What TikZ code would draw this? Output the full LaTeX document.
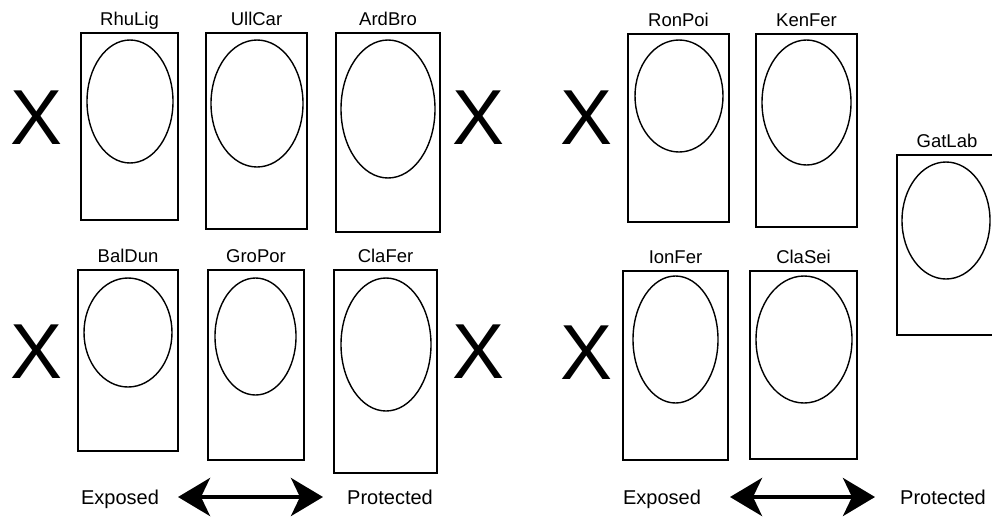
\documentclass[tikz,border=0pt]{standalone}
\usepackage{fontspec}
\setmainfont{Liberation Sans}
\usetikzlibrary{arrows.meta, shapes.geometric}

\begin{document}
\begin{tikzpicture}[x=1pt, y=-1pt,
  box/.style = {draw, line width=1.6pt, rectangle, inner sep=0pt},
  oval/.style = {draw, line width=1.4pt, ellipse, inner sep=0pt},
  lbl/.style = {font=\fontsize{18.5}{20}\selectfont, inner sep=0pt, text height=0.72em, text depth=0.22em, label distance=4pt},
  cross/.style = {font=\fontsize{78}{80}\selectfont, inner sep=0pt},
  side/.style = {font=\fontsize{20}{22}\selectfont, inner sep=0pt, anchor=base},
  scalearrow/.style = {line width=4pt, {Stealth[length=32pt, width=38pt, inset=9pt]}-{Stealth[length=32pt, width=38pt, inset=9pt]}}
]
\useasboundingbox (0,0) rectangle (992,517);
\clip (0,0) rectangle (992,517);

%left group, top row
\node[box, minimum width=97pt, minimum height=187pt, label={[lbl]above:RhuLig}] (rhulig) at (129.5,126.5) {};
\node[oval, minimum width=86pt, minimum height=123pt] (rhulig-o) at (130,101.5) {};
\node[box, minimum width=101pt, minimum height=196pt, label={[lbl]above:UllCar}] (ullcar) at (256.5,131) {};
\node[oval, minimum width=92pt, minimum height=127pt] (ullcar-o) at (257,103.5) {};
\node[box, minimum width=104pt, minimum height=199pt, label={[lbl]above:ArdBro}] (ardbro) at (388,132.5) {};
\node[oval, minimum width=94pt, minimum height=138pt] (ardbro-o) at (388,109) {};

%left group, bottom row
\node[box, minimum width=100pt, minimum height=181pt, label={[lbl]above:BalDun}] (baldun) at (128,360.5) {};
\node[oval, minimum width=88pt, minimum height=109pt] (baldun-o) at (128,332.5) {};
\node[box, minimum width=96pt, minimum height=190pt, label={[lbl]above:GroPor}] (gropor) at (256,365) {};
\node[oval, minimum width=81pt, minimum height=117pt] (gropor-o) at (255.5,336.5) {};
\node[box, minimum width=103pt, minimum height=203pt, label={[lbl]above:ClaFer}] (clafer) at (385.5,371.5) {};
\node[oval, minimum width=90pt, minimum height=133pt] (clafer-o) at (386,344.5) {};

%right group
\node[box, minimum width=101pt, minimum height=188pt, label={[lbl]above:RonPoi}] (ronpoi) at (678.5,128) {};
\node[oval, minimum width=88pt, minimum height=112pt] (ronpoi-o) at (679,96) {};
\node[box, minimum width=101pt, minimum height=193pt, label={[lbl]above:KenFer}] (kenfer) at (806.5,130.5) {};
\node[oval, minimum width=89pt, minimum height=125pt] (kenfer-o) at (806.5,102.5) {};
\node[box, minimum width=105pt, minimum height=189pt, label={[lbl]above:IonFer}] (ionfer) at (675.5,365.5) {};
\node[oval, minimum width=85pt, minimum height=127pt] (ionfer-o) at (675.5,339.5) {};
\node[box, minimum width=107pt, minimum height=188pt, label={[lbl]above:ClaSei}] (clasei) at (803.5,365) {};
\node[oval, minimum width=96pt, minimum height=127pt] (clasei-o) at (804,339.5) {};
\node[box, minimum width=100pt, minimum height=180pt, label={[lbl]above:GatLab}] (gatlab) at (947,245) {};
\node[oval, minimum width=88pt, minimum height=117pt] (gatlab-o) at (946,220.5) {};

%crosses
\node[cross] (x1) at (37,117.5) {X};
\node[cross] (x2) at (479,117.5) {X};
\node[cross] (x3) at (37,352) {X};
\node[cross] (x4) at (479,352) {X};
\node[cross] (x5) at (587,118) {X};
\node[cross] (x6) at (587,353) {X};

%exposure scale
\node[side] (exp1) at (120,504) {Exposed};
\node[side] (prot1) at (390,504) {Protected};
\node[side] (exp2) at (662,504) {Exposed};
\node[side] (prot2) at (943,504) {Protected};
\coordinate (a1) at (178,497);
\coordinate (b1) at (323,497);
\coordinate (a2) at (730,497);
\coordinate (b2) at (875,497);
\draw[scalearrow] (a1) -- (b1);
\draw[scalearrow] (a2) -- (b2);

\end{tikzpicture}
\end{document}
